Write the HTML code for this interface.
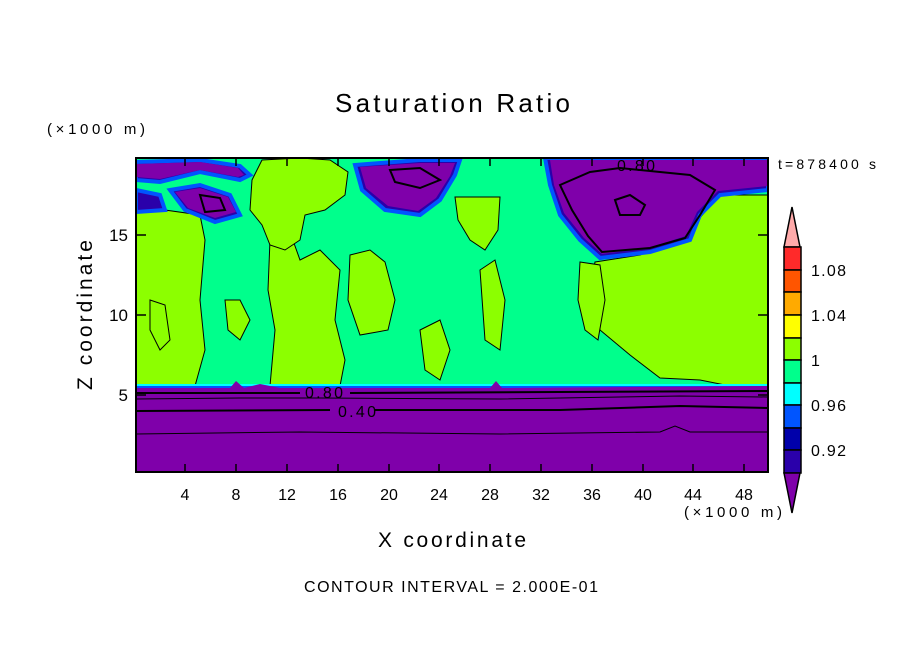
<!DOCTYPE html>
<html><head><meta charset="utf-8"><style>
html,body{margin:0;padding:0;background:#fff;}
svg{display:block;font-family:"Liberation Sans",sans-serif;}
</style></head><body>
<svg width="904" height="654" viewBox="0 0 904 654" xmlns="http://www.w3.org/2000/svg">
<defs><clipPath id="c"><rect x="136" y="158" width="632" height="314"/></clipPath></defs>
<g clip-path="url(#c)">
<rect x="136" y="158" width="632" height="314" fill="#00ff8c"/>
<g fill="#8cff00" stroke="#000" stroke-width="1">
<path d="M136,205 L150,200 L165,210 L200,215 L205,240 L200,300 L205,350 L195,386 L136,386 Z"/>
<path d="M270,240 L290,232 L300,260 L320,250 L340,270 L335,320 L345,360 L340,386 L270,386 L275,330 L268,290 Z"/>
<path d="M252,180 L262,160 L300,158 L330,160 L348,172 L345,195 L325,210 L305,215 L300,240 L285,250 L270,245 L262,225 L250,210 Z"/>
<path d="M350,255 L370,250 L385,262 L395,300 L388,330 L360,335 L348,300 Z"/>
<path d="M455,197 L500,197 L498,230 L485,250 L470,240 L458,220 Z"/>
<path d="M595,262 L640,255 L680,240 L720,195 L768,195 L768,386 L730,386 L700,380 L660,378 L630,355 L600,330 L590,290 Z"/>
<path d="M580,262 L600,265 L605,300 L598,340 L585,330 L578,300 Z"/>
<path d="M420,330 L440,320 L450,350 L440,380 L425,370 Z"/>
<path d="M480,270 L495,260 L505,300 L500,350 L485,340 Z"/>
<path d="M150,300 L165,305 L170,340 L160,350 L150,330 Z"/>
<path d="M225,300 L240,300 L250,320 L240,340 L228,330 Z"/>
</g>
<g fill="#2a00aa" stroke="#0055ff" stroke-width="4">
<path d="M136,162 L200,160 L240,166 L250,175 L240,180 L200,172 L160,182 L136,180 Z"/>
<path d="M170,190 L200,185 L230,195 L240,215 L215,222 L185,210 Z"/>
<path d="M136,190 L160,195 L165,210 L136,212 Z"/>
<path d="M355,165 L420,160 L460,160 L455,175 L440,200 L420,215 L385,210 L362,190 Z"/>
<path d="M545,158 L768,158 L768,190 L720,195 L700,215 L690,240 L650,252 L600,258 L580,240 L560,215 L550,185 Z"/>
</g>
<g fill="#7f00aa">
<path d="M136,164 L200,162 L238,168 L244,175 L238,177 L200,170 L160,179 L136,177 Z"/>
<path d="M175,192 L200,188 L228,197 L236,212 L215,218 L188,208 Z"/>
<path d="M360,167 L420,163 L455,163 L450,176 L436,198 L418,211 L388,206 L366,188 Z"/>
<path d="M550,160 L768,160 L768,186 L718,191 L697,212 L686,236 L648,248 L602,254 L584,238 L564,213 L554,185 Z"/>
</g>
<g fill="none" stroke="#000" stroke-width="2">
<path d="M560,185 L590,172 L620,168 L690,175 L715,190 L700,215 L685,238 L650,248 L602,252 L588,236 L572,210 Z"/>
<path d="M615,200 L630,195 L645,205 L640,215 L620,215 Z"/>
<path d="M390,170 L420,168 L440,180 L420,188 L395,182 Z"/>
<path d="M200,195 L220,198 L225,210 L205,212 Z"/>
</g>
<rect x="136" y="384" width="632" height="3" fill="#00ffff"/>
<rect x="136" y="386" width="632" height="2" fill="#0055ff"/>
<path d="M136,388 L230,388 L236,381 L244,388 L260,384 L280,388 L490,388 L496,381 L502,388 L768,386 L768,472 L136,472 Z" fill="#7f00aa"/>
<g fill="none" stroke="#000">
<path d="M136,393 L300,393 M350,393 L768,391" stroke-width="2"/>
<path d="M136,399 L240,398 L320,398 L500,399 L620,397 L680,396 L768,397" stroke-width="1"/>
<path d="M136,411 L330,410 M375,410 L560,410 L680,406 L768,408" stroke-width="2"/>
<path d="M136,434 L300,432 L500,434 L660,432 L675,426 L690,432 L768,432" stroke-width="1"/>
</g>
<text x="305" y="398" font-size="16" textLength="38">0.80</text>
<text x="338" y="417" font-size="16" textLength="38">0.40</text>
<text x="617" y="171" font-size="16" textLength="38">0.80</text>
</g>
<rect x="136" y="158" width="632" height="314" fill="none" stroke="#000" stroke-width="2"/>
<g stroke="#000" stroke-width="1.5">
<path d="M185,472 v-8 M236,472 v-8 M287,472 v-8 M338,472 v-8 M389,472 v-8 M439,472 v-8 M490,472 v-8 M541,472 v-8 M592,472 v-8 M643,472 v-8 M693,472 v-8 M744,472 v-8"/>
<path d="M185,158 v8 M236,158 v8 M287,158 v8 M338,158 v8 M389,158 v8 M439,158 v8 M490,158 v8 M541,158 v8 M592,158 v8 M643,158 v8 M693,158 v8 M744,158 v8"/>
<path d="M136,395 h10 M136,315 h10 M136,235 h10 M768,395 h-10 M768,315 h-10 M768,235 h-10"/>
</g>
<g font-size="16" text-anchor="middle">
<text x="185" y="500">4</text><text x="236" y="500">8</text><text x="287" y="500">12</text><text x="338" y="500">16</text><text x="389" y="500">20</text><text x="439" y="500">24</text><text x="490" y="500">28</text><text x="541" y="500">32</text><text x="592" y="500">36</text><text x="643" y="500">40</text><text x="693" y="500">44</text><text x="744" y="500">48</text>
</g>
<g font-size="17" text-anchor="end">
<text x="128" y="401">5</text><text x="128" y="321">10</text><text x="128" y="241">15</text>
</g>
<text x="335" y="112" font-size="26" textLength="235">Saturation Ratio</text>
<text x="47" y="134" font-size="15" textLength="98">(×1000 m)</text>
<text x="684" y="517" font-size="15" textLength="98">(×1000 m)</text>
<text x="378" y="547" font-size="21" textLength="148">X coordinate</text>
<text transform="translate(92,390) rotate(-90)" font-size="21" textLength="150">Z coordinate</text>
<text x="778" y="169" font-size="14" textLength="98">t=878400 s</text>
<text x="304" y="592" font-size="16" textLength="294">CONTOUR INTERVAL = 2.000E-01</text>
<g stroke="#000" stroke-width="1.5">
<path d="M784,247 L792,207 L800,247 Z" fill="#ffaaaa"/>
<rect x="784" y="247" width="17" height="23" fill="#ff2a2a"/>
<rect x="784" y="270" width="17" height="22" fill="#ff5500"/>
<rect x="784" y="292" width="17" height="23" fill="#ffaa00"/>
<rect x="784" y="315" width="17" height="23" fill="#ffff00"/>
<rect x="784" y="338" width="17" height="22" fill="#8cff00"/>
<rect x="784" y="360" width="17" height="23" fill="#00ff8c"/>
<rect x="784" y="383" width="17" height="22" fill="#00ffff"/>
<rect x="784" y="405" width="17" height="23" fill="#0055ff"/>
<rect x="784" y="428" width="17" height="22" fill="#0000aa"/>
<rect x="784" y="450" width="17" height="23" fill="#2a00aa"/>
<path d="M784,473 L792,513 L800,473 Z" fill="#7f00aa"/>
</g>
<g font-size="16">
<text x="811" y="276" textLength="35">1.08</text><text x="811" y="321" textLength="35">1.04</text><text x="811" y="366">1</text><text x="811" y="411" textLength="35">0.96</text><text x="811" y="456" textLength="35">0.92</text>
</g>
</svg>
</body></html>
